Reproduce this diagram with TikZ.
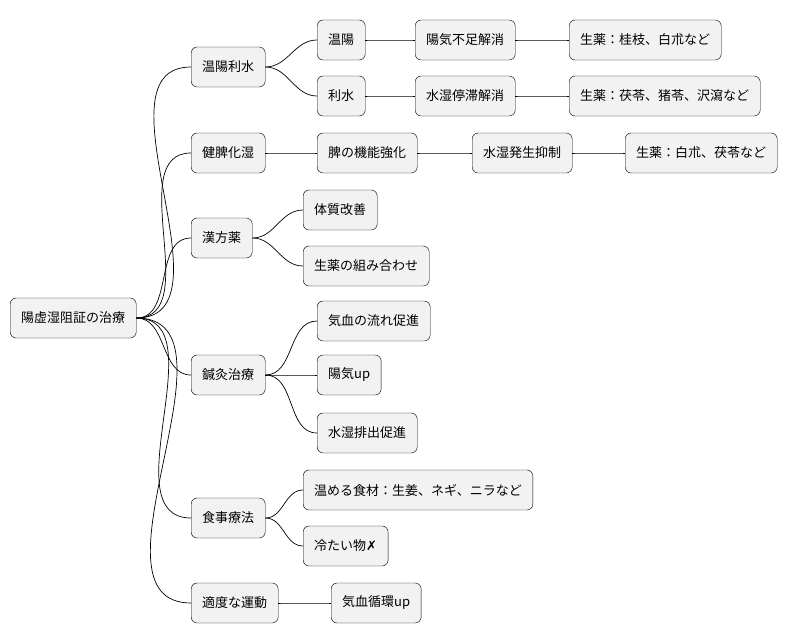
\documentclass[tikz,border=0pt]{standalone}
\usepackage{fontspec}
\setmainfont{Noto Sans CJK JP}
\newfontfamily\symfont{DejaVu Sans}
\begin{document}
\begin{tikzpicture}[x=1pt, y=-1pt,
        every node/.style={draw, rounded corners=6pt, fill=gray!10, minimum height=40pt,
            inner xsep=11pt, anchor=west, font=\fontsize{13}{15}\selectfont},
        link/.style={draw, line width=0.7pt}
    ]
    \useasboundingbox (0,0) rectangle (796,640);
    % root
    \node (root) at (10,318) {陽虚湿阻証の治療};
    % level 1
    \node (onyo) at (191,67) {温陽利水};
    \node (kenpi) at (191,153) {健脾化湿};
    \node (kanpo) at (191,238) {漢方薬};
    \node (shinkyu) at (191,375) {鍼灸治療};
    \node (shokuji) at (191,518) {食事療法};
    \node (undo) at (191,603) {適度な運動};
    % level 2
    \node (on) at (317,40) {温陽};
    \node (risui) at (317,96) {利水};
    \node (hi) at (317,153) {脾の機能強化};
    \node (taishitsu) at (303,210) {体質改善};
    \node (kumi) at (303,266) {生薬の組み合わせ};
    \node (kiketsu) at (317,321) {気血の流れ促進};
    \node (yoki) at (317,375) {陽気up};
    \node (haishutsu) at (317,433) {水湿排出促進};
    \node (shokuzai) at (303,490) {温める食材：生姜、ネギ、ニラなど};
    \node (tsumetai) at (303,546) {冷たい物{\symfont ✗}};
    \node (junkan) at (331,603) {気血循環up};
    % level 3
    \node (fusoku) at (415,40) {陽気不足解消};
    \node (teitai) at (415,96) {水湿停滞解消};
    \node (yokusei) at (472,153) {水湿発生抑制};
    % level 4
    \node (keishi) at (569,40) {生薬：桂枝、白朮など};
    \node (bukuryo) at (569,96) {生薬：茯苓、猪苓、沢瀉など};
    \node (byakujutsu) at (625,153) {生薬：白朮、茯苓など};

    % connectors
    \foreach \a/\b in {root/onyo, root/kenpi, root/kanpo, root/shinkyu, root/shokuji, root/undo,
        onyo/on, onyo/risui, kenpi/hi, kanpo/taishitsu, kanpo/kumi,
        shinkyu/kiketsu, shinkyu/yoki, shinkyu/haishutsu,
        shokuji/shokuzai, shokuji/tsumetai, undo/junkan,
        on/fusoku, risui/teitai, hi/yokusei,
        fusoku/keishi, teitai/bukuryo, yokusei/byakujutsu}
        \draw[link] (\a.east) to[out=0, in=180] (\b.west);
\end{tikzpicture}
\end{document}
